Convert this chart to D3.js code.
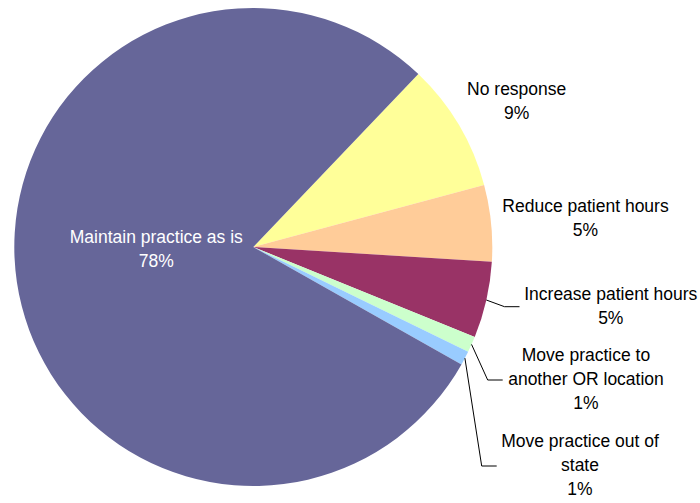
<!DOCTYPE html>
<html>
<head>
<meta charset="utf-8">
<script src="https://cdn.jsdelivr.net/npm/d3@7"></script>
<style>
  html, body { margin: 0; padding: 0; background: #ffffff; }
  svg { display: block; }
</style>
</head>
<body>
<svg id="chart" width="700" height="503"></svg>
<script>
// ---- data ----
const categories = ["No response", "Reduce patient hours", "Increase patient hours",
  "Move practice to another OR location", "Move practice out of state", "Maintain practice as is"];
const values = [8.69, 5.16, 5.16, 1.08, 0.95, 78.96];
const percentLabels = ["9%", "5%", "5%", "1%", "1%", "78%"];
const labelLines = [
  ["No response"],
  ["Reduce patient hours"],
  ["Increase patient hours"],
  ["Move practice to", "another OR location"],
  ["Move practice out of", "state"],
  ["Maintain practice as is"]
];
const colors = ["#FFFF99", "#FFCC99", "#993366", "#CCFFCC", "#99CCFF", "#666699"];

// ---- layout (not data) ----
const W = 700, H = 503;
const cx = 253.3, cy = 247, R = 239;
const startDeg = 43.67;
const fontSize = 17.5, lineH = 24;
// label anchor: center x, first baseline y; leader: end point (x,y) or null
const labelLayout = [
  { x: 516.7, y: 95,    fill: "#000", leader: null },
  { x: 585.5, y: 211.7, fill: "#000", leader: null },
  { x: 610.8, y: 299.5, fill: "#000", leader: [519.5, 306.7] },
  { x: 586,   y: 360.7, fill: "#000", leader: [502.7, 380] },
  { x: 580,   y: 447.3, fill: "#000", leader: [496.7, 466] },
  { x: 156.3, y: 242.7, fill: "#fff", leader: null }
];

const svg = d3.select("#chart");
const g = svg.append("g").attr("transform", `translate(${cx},${cy})`);

const data = categories.map((c, i) => ({ cat: c, value: values[i], i }));
const pie = d3.pie().sort(null).value(d => d.value)
  .startAngle(startDeg * Math.PI / 180)
  .endAngle(startDeg * Math.PI / 180 + 2 * Math.PI);
const arcs = pie(data);
const arc = d3.arc().innerRadius(0).outerRadius(R);

g.selectAll("path.slice").data(arcs).enter().append("path")
  .attr("class", "slice")
  .attr("d", arc)
  .attr("fill", d => colors[d.data.i]);

// leader lines
arcs.forEach(a => {
  const L = labelLayout[a.data.i];
  if (!L.leader) return;
  const mid = (a.startAngle + a.endAngle) / 2;
  const sx = cx + R * Math.sin(mid), sy = cy - R * Math.cos(mid);
  const [ex, ey] = L.leader;
  svg.append("polyline")
    .attr("points", `${sx},${sy} ${ex - 15},${ey} ${ex},${ey}`)
    .attr("fill", "none")
    .attr("stroke", "#000")
    .attr("stroke-width", 1);
});

// labels
arcs.forEach(a => {
  const i = a.data.i;
  const L = labelLayout[i];
  const lines = labelLines[i].concat([percentLabels[i]]);
  const t = svg.append("text")
    .attr("text-anchor", "middle")
    .attr("font-family", "'Liberation Sans', Arial, sans-serif")
    .attr("font-size", fontSize)
    .attr("fill", L.fill);
  lines.forEach((ln, k) => {
    t.append("tspan").attr("x", L.x).attr("y", L.y + k * lineH).text(ln);
  });
});
</script>
</body>
</html>
